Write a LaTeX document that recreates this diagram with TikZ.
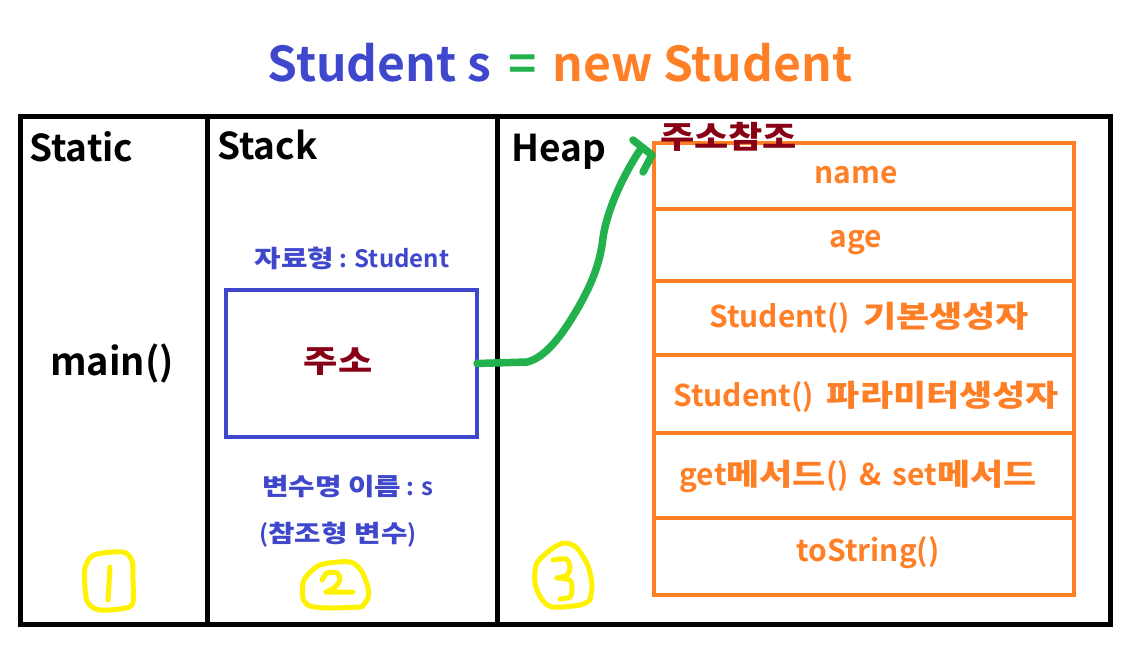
\documentclass[tikz,border=0pt]{standalone}
\usepackage{fontspec}
\setmainfont{Noto Sans CJK KR}[BoldFont={Noto Sans CJK KR Bold}]
\newfontfamily\hgfont{Noto Sans CJK KR Bold}[FakeStretch=1.2]
\newcommand{\hg}[1]{{\hgfont #1}}
\definecolor{pindigo}{HTML}{3F48CC}
\definecolor{porange}{HTML}{FF7F27}
\definecolor{pgreen}{HTML}{22B14C}
\definecolor{pred}{HTML}{880015}
\definecolor{pyellow}{HTML}{FFF200}
\newcommand{\fs}[1]{\fontsize{#1}{#1}\selectfont\bfseries}
\tikzset{
  section/.style={draw=black,line width=5pt,anchor=north west,inner sep=0pt,outer sep=0pt},
  seclabel/.style={anchor=base west,inner sep=0pt,font=\fs{37}},
  bluetext/.style={text=pindigo,font=\fs{24},inner sep=0pt},
  row/.style={draw=porange,line width=4pt,minimum width=420pt,inner sep=0pt,outer sep=0pt},
  rowtext/.style={text=porange,font=\fs{30},inner sep=0pt},
  hand/.style={pyellow,line width=5pt,line cap=round,line join=round},
}
\begin{document}
\begin{tikzpicture}[x=1pt,y=-1pt]
\useasboundingbox (0,0) rectangle (1144,650);
\fill[white] (0,0) rectangle (1144,650);
% title
\node[anchor=base,inner sep=0pt,font=\fs{48}] (title) at (560,82)
  {\color{pindigo}Student s\hspace{6pt} \color{pgreen}=\hspace{5pt} \color{porange}new Student};
% sections
\node[section,minimum width=187pt,minimum height=507pt] (static) at (20,117) {};
\node[section,minimum width=290pt,minimum height=507pt] (stack) at (207,117) {};
\node[section,minimum width=613pt,minimum height=507pt] (heap) at (497,117) {};
\node[seclabel] (lstatic) at (29,162) {Static};
\node[seclabel] (lstack) at (217,160) {Stack};
\node[seclabel] (lheap) at (511,162) {Heap};
\node[font=\fs{38},inner sep=0pt] (main) at (112,364) {main()};
% stack
\node[bluetext] (type) at (352,258) {\hg{자료형} : Student};
\node[draw=pindigo,line width=4pt,minimum width=251pt,minimum height=147pt,inner sep=0pt,outer sep=0pt] (addr) at (351.5,363.5) {};
\node[text=pred,font=\fs{31},inner sep=0pt] (addrtext) at (338,362) {\hg{주소}};
\node[bluetext] (vname) at (348,487) {\hg{변수명 이름} : s};
\node[bluetext] (vkind) at (338,535) {(\hg{참조형 변수})};
% heap rows
\node[row,minimum height=66pt] (r1) at (864,176) {};
\node[row,minimum height=72pt] (r2) at (864,245) {};
\node[row,minimum height=74pt] (r3) at (864,318) {};
\node[row,minimum height=78pt] (r4) at (864,394) {};
\node[row,minimum height=85pt] (r5) at (864,475.5) {};
\node[row,minimum height=77pt] (r6) at (864,556.5) {};
\node[rowtext] (t1) at (856,175) {name};
\node[rowtext] (t2) at (856,243) {age};
\node[rowtext] (t3) at (869,318) {Student()\hspace{6pt} \hg{기본생성자}};
\node[rowtext] (t4) at (866,397) {Student()\hspace{6pt} \hg{파라미터생성자}};
\node[rowtext] (t5) at (858,476) {get\hg{메서드}()\hspace{4pt} \&\hspace{4pt} set\hg{메서드}};
\node[rowtext] (t6) at (868,553) {toString()};
\node[text=pred,font=\fs{31},anchor=base west,inner sep=0pt] (ref) at (660,149) {\hg{주소참조}};
% arrow
\coordinate (tip) at (640,150);
\draw[pgreen,line width=7.5pt,line cap=round,line join=round]
  (addr.east) -- (527,362) .. controls (545,358) and (562,335) .. (575,313)
  .. controls (590,288) and (600,265) .. (603,238)
  .. controls (606,215) and (620,180) .. (tip);
\draw[pgreen,line width=7.5pt,line cap=round,line join=round]
  (633,140) -- (652,155) -- (643,172);
% handwritten numbers
\draw[hand] plot[smooth cycle] coordinates {(85,568) (94,555) (123,552) (132,561) (133,580) (133,602) (126,608) (100,610) (88,603) (85,588)};
\draw[hand] (110,567) -- (108,600);
\draw[hand] plot[smooth] coordinates {(362,607) (368,598) (368,588) (362,572) (350,562) (320,565) (304,580) (303,598) (310,606) (330,608) (360,607)};
\draw[hand] plot[smooth] coordinates {(322,580) (327,573) (337,573) (340,580) (334,588) (326,592)} -- (353,592);
\draw[hand] plot[smooth] coordinates {(590,600) (592,585) (588,566) (577,548) (565,543) (553,548) (537,563) (535,583) (541,598) (552,607) (580,605) (590,600)};
\draw[hand] plot[smooth] coordinates {(553,560) (566,559) (570,567) (567,575) (557,578)};
\draw[hand] plot[smooth] coordinates {(557,578) (570,580) (572,590) (570,597) (560,599)};
\end{tikzpicture}
\end{document}
